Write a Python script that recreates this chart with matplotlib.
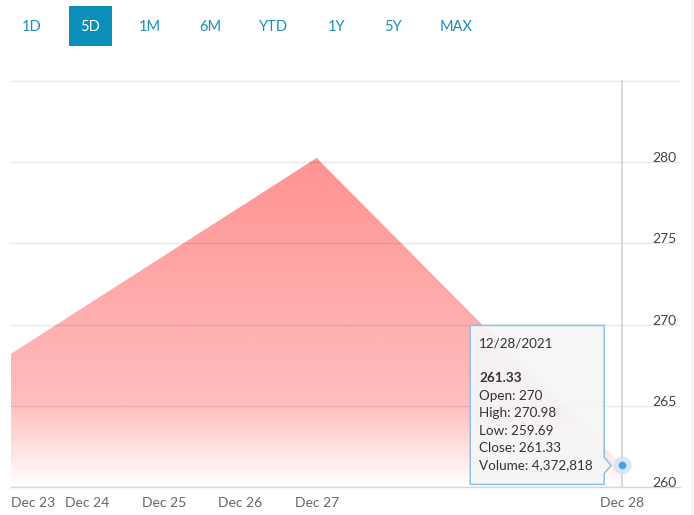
import numpy as np
import matplotlib
matplotlib.use("Agg")
import matplotlib.pyplot as plt
from matplotlib.patches import Polygon, Rectangle
from matplotlib.lines import Line2D
from matplotlib.transforms import IdentityTransform

# ---------------- data ----------------
periods = ["1D", "5D", "1M", "6M", "YTD", "1Y", "5Y", "MAX"]
selected_period = "5D"
x_pos = [0, 4, 8]                      # position of sessions on the time axis
close = [268.2, 280.25, 261.33]        # price
tick_pos = [0, 1, 2, 3, 4, 8]
tick_labels = ["Dec 23", "Dec 24", "Dec 25", "Dec 26", "Dec 27", "Dec 28"]
y_ticks = [260, 265, 270, 275, 280, 285]
y_tick_labels = ["260", "265", "270", "275", "280", ""]
tip_date = "12/28/2021"
tip_price = "261.33"
tip_names = ["Open", "High", "Low", "Close", "Volume"]
tip_values = ["270", "270.98", "259.69", "261.33", "4,372,818"]

W, H = 694, 515
FONT = "Lato"
plt.rcParams["font.family"] = [FONT, "DejaVu Sans"]

fig = plt.figure(figsize=(W / 100, H / 100), dpi=100)
fig.patch.set_facecolor("white")

def fx(x):
    return x / W

def fy(y):
    return 1 - y / H

# ---------------- period buttons ----------------
btn_x = [32, 90, 150, 210, 274, 337, 393, 456]
for name, bx in zip(periods, btn_x):
    if name == selected_period:
        fig.add_artist(Rectangle((fx(69), fy(46)), fx(43), 40 / H,
                                 transform=fig.transFigure,
                                 facecolor="#0a8fbb", edgecolor="none"))
        col = "white"
    else:
        col = "#1d8db6"
    fig.text(fx(bx), fy(27), name, ha="center", va="center",
             fontsize=10.5, color=col)

# ---------------- axes ----------------
ax = fig.add_axes([fx(11), 28 / H, 669 / W, 407 / H])
ax.set_xlim(0, 669 / 76.4)
ax.set_ylim(260, 285.05)

# gradient area
ymax = max(close)
n = 256
t = np.linspace(0, 1, n)
alpha = np.interp(t, [0, 0.75, 1.0], [1.0, 0.6, 0.0])
grad = np.zeros((n, 2, 4))
grad[..., 0] = 1.0
grad[..., 1] = 146 / 255
grad[..., 2] = 146 / 255
grad[..., 3] = alpha[:, None]
verts = list(zip(x_pos, close)) + [(x_pos[-1], 260), (x_pos[0], 260)]
clip = Polygon(verts, closed=True, facecolor="none", edgecolor="none",
               transform=ax.transData)
ax.add_patch(clip)
im = ax.imshow(grad, extent=(x_pos[0], x_pos[-1], 260, ymax), aspect="auto",
               origin="upper", interpolation="bilinear", zorder=1)
im.set_clip_path(clip)

# grid
ax.set_yticks(y_ticks)
ax.set_yticklabels(y_tick_labels)
ax.set_axisbelow(False)
ax.grid(axis="y", color="black", alpha=0.09, linewidth=1)
ax.grid(axis="x", visible=False)

for s in ["top", "left", "right"]:
    ax.spines[s].set_visible(False)
ax.spines["bottom"].set_color("#d6d6d6")
ax.spines["bottom"].set_linewidth(1)

ax.yaxis.tick_right()
ax.tick_params(axis="y", length=0, pad=-20, labelsize=10, labelcolor="#444444")
for lab in ax.get_yticklabels():
    lab.set_va("baseline")
    lab.set_ha("left")

ax.set_xticks(tick_pos)
ax.set_xticklabels(tick_labels)
ax.tick_params(axis="x", length=0, pad=7, labelsize=10, labelcolor="#666666")
ax.get_xticklabels()[0].set_ha("left")

# crosshair
ax.axvline(x_pos[-1], color="#d2d2d2", linewidth=1.2, zorder=3)

# right faint border
fig.add_artist(Line2D([fx(692), fx(692)], [0, 1], transform=fig.transFigure,
                      color="#f0f0f0", linewidth=1))

# ---------------- tooltip ----------------
px, py = ax.transData.transform((x_pos[-1], close[-1]))
box = [(px - 152, py + 140), (px - 18, py + 140), (px - 18, py + 8),
       (px - 11, py), (px - 18, py - 8), (px - 18, py - 19),
       (px - 152, py - 19)]
fig.add_artist(Polygon(box, closed=True, transform=IdentityTransform(),
                       facecolor=(0.965, 0.965, 0.97, 0.93),
                       edgecolor="#8dc0e6", linewidth=1.1, zorder=5))

lines_y = [122, 87, 69, 52, 34, 17, 0]
texts = [tip_date, tip_price] + [f"{a}: {b}" for a, b in zip(tip_names, tip_values)]
for i, (txt, dy) in enumerate(zip(texts, lines_y)):
    fig.text(px - 143, py + dy, txt, transform=IdentityTransform(),
             ha="left", va="center", fontsize=9.7, color="#333333",
             fontweight="bold" if i == 1 else "normal", zorder=6)

# hover point
ax.plot([x_pos[-1]], [close[-1]], marker="o", markersize=13,
        color="#cfe3f5", alpha=0.8, markeredgewidth=0, zorder=6, clip_on=False)
ax.plot([x_pos[-1]], [close[-1]], marker="o", markersize=5.5,
        color="#4a9fe3", markeredgewidth=0, zorder=7, clip_on=False)

fig.savefig("out.png", dpi=100, facecolor="white")
